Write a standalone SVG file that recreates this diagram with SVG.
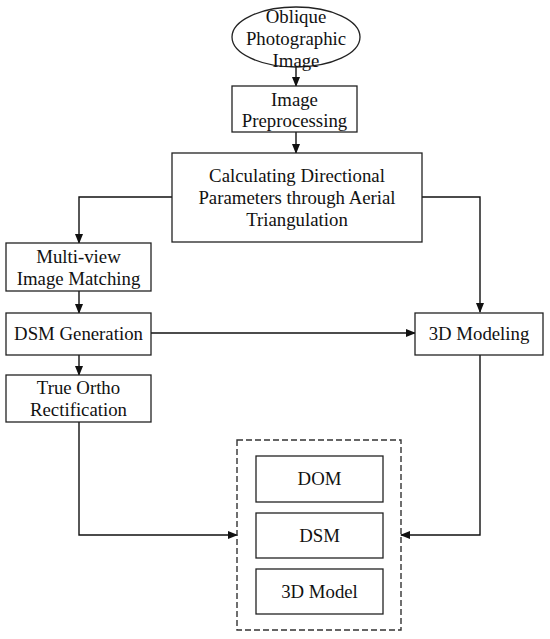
<svg xmlns="http://www.w3.org/2000/svg" width="550" height="639" viewBox="0 0 550 639">
<style>
.n{fill:#fff;stroke:#222;stroke-width:1.3}
.t{font-family:"Liberation Serif","Times New Roman",serif;font-size:18.8px;fill:#111;text-anchor:middle}
.c{fill:none;stroke:#111;stroke-width:1.4}
.d{fill:none;stroke:#333;stroke-width:1.4;stroke-dasharray:6,3}
</style>
<defs>
<marker id="a" markerWidth="10" markerHeight="8" refX="9" refY="4" orient="auto" markerUnits="userSpaceOnUse">
<path d="M0,0 L10,4 L0,8 Z" fill="#111"/>
</marker>
</defs>
<rect width="550" height="639" fill="#fff"/>
<g id="connectors">
<path class="c" d="M296,67 V86" marker-end="url(#a)"/>
<path class="c" d="M296,132 V153" marker-end="url(#a)"/>
<path class="c" d="M172,197 H79 V243" marker-end="url(#a)"/>
<path class="c" d="M422,197 H480 V312" marker-end="url(#a)"/>
<path class="c" d="M79,291 V313" marker-end="url(#a)"/>
<path class="c" d="M79,355 V375" marker-end="url(#a)"/>
<path class="c" d="M151,333 H415" marker-end="url(#a)"/>
<path class="c" d="M79,422 V535 H237" marker-end="url(#a)"/>
<path class="c" d="M480,355 V535 H401" marker-end="url(#a)"/>
</g>
<g id="oblique">
<ellipse class="n" cx="296" cy="37" rx="64" ry="30"/>
<text class="t" x="296" y="23">Oblique</text>
<text class="t" x="296" y="45">Photographic</text>
<text class="t" x="296" y="67">Image</text>
</g>
<g id="preprocessing">
<rect class="n" x="232" y="86" width="125" height="46"/>
<text class="t" x="294.5" y="106">Image</text>
<text class="t" x="294.5" y="127">Preprocessing</text>
</g>
<g id="calculating">
<rect class="n" x="172" y="153" width="250" height="89"/>
<text class="t" x="297" y="182">Calculating Directional</text>
<text class="t" x="297" y="204">Parameters through Aerial</text>
<text class="t" x="297" y="226">Triangulation</text>
</g>
<g id="multiview">
<rect class="n" x="6" y="243" width="145" height="48"/>
<text class="t" x="78.5" y="263">Multi-view</text>
<text class="t" x="78.5" y="285">Image Matching</text>
</g>
<g id="dsmgen">
<rect class="n" x="6" y="313" width="145" height="42"/>
<text class="t" x="78.5" y="340">DSM Generation</text>
</g>
<g id="trueortho">
<rect class="n" x="6" y="375" width="145" height="47"/>
<text class="t" x="78.5" y="394">True Ortho</text>
<text class="t" x="78.5" y="416">Rectification</text>
</g>
<g id="modeling">
<rect class="n" x="415" y="313" width="128" height="42"/>
<text class="t" x="479" y="340">3D Modeling</text>
</g>
<g id="outputs">
<rect class="d" x="237" y="440" width="164" height="190"/>
</g>
<g id="dom">
<rect class="n" x="256" y="456" width="127" height="46"/>
<text class="t" x="319.5" y="485">DOM</text>
</g>
<g id="dsm">
<rect class="n" x="256" y="513" width="127" height="45"/>
<text class="t" x="319.5" y="542">DSM</text>
</g>
<g id="model3d">
<rect class="n" x="256" y="569" width="127" height="45"/>
<text class="t" x="319.5" y="598">3D Model</text>
</g>
</svg>
